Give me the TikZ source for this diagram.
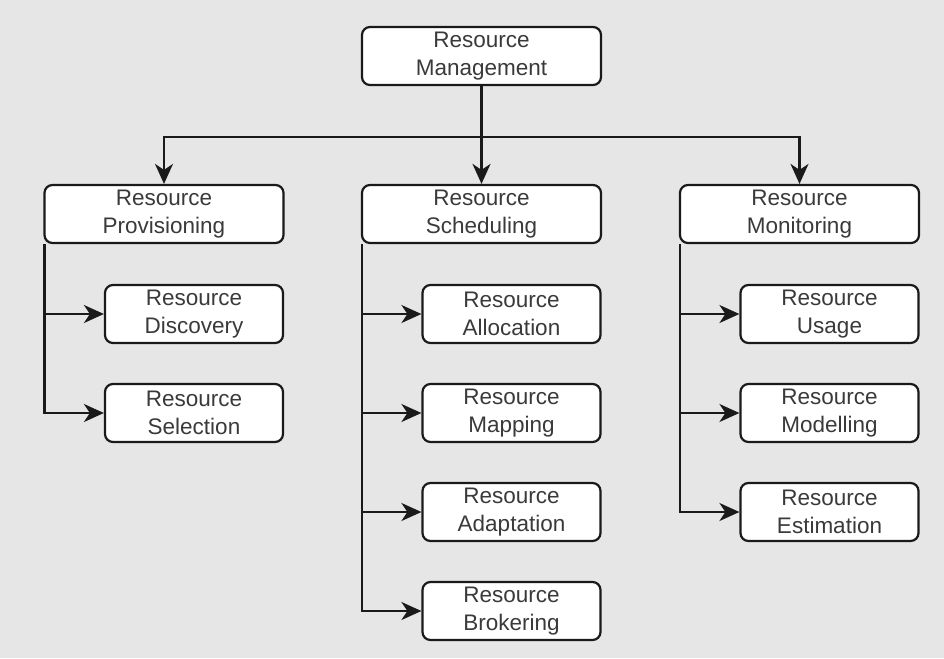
\documentclass[tikz,border=0pt]{standalone}
\usepackage{fontspec}
\setmainfont{Liberation Sans}
\usetikzlibrary{arrows.meta}
\definecolor{bg}{HTML}{E6E6E6}
\definecolor{txt}{HTML}{3A3A3A}
\definecolor{ln}{HTML}{1A1A1A}
\tikzset{tipa/.tip={Stealth[length=20pt,width=18pt,inset=6pt]}}
\begin{document}
\begin{tikzpicture}[x=1pt,y=-1pt,
  box/.style={draw=ln,line width=2.2pt,fill=white,rounded corners=8pt,
    minimum height=58pt,inner sep=0pt,align=center,text=txt,
    font=\fontsize{22.5}{28}\selectfont},
  big/.style={box,minimum width=239pt},
  small/.style={box,minimum width=178pt},
  conn/.style={draw=ln,line width=2.2pt,-tipa}]
\fill[bg] (0,0) rectangle (944,658);
\useasboundingbox (0,0) rectangle (944,658);
\node[big] (rm) at (481.5,56) {Resource\\Management};
\node[big] (rp) at (164,214) {Resource\\Provisioning};
\node[big] (rs) at (481.5,214) {Resource\\Scheduling};
\node[big] (rmo) at (799.5,214) {Resource\\Monitoring};
\node[small] (rd) at (194,314) {Resource\\Discovery};
\node[small] (rse) at (194,413) {Resource\\Selection};
\node[small] (ra) at (511.5,314) {Resource\\Allocation};
\node[small] (rma) at (511.5,413) {Resource\\Mapping};
\node[small] (rad) at (511.5,512) {Resource\\Adaptation};
\node[small] (rb) at (511.5,611) {Resource\\Brokering};
\node[small] (ru) at (829.5,314) {Resource\\Usage};
\node[small] (rmod) at (829.5,413) {Resource\\Modelling};
\node[small] (re) at (829.5,512) {Resource\\Estimation};
\coordinate (bus) at (481.5,137);
\draw[conn] (rm.south) -- (rs.north);
\draw[conn] (bus) -| (rp.north);
\draw[conn] (bus) -| (rmo.north);
\foreach \p/\c in {rp/rd,rp/rse,rs/ra,rs/rma,rs/rad,rs/rb,rmo/ru,rmo/rmod,rmo/re}
  \draw[conn] ([xshift=1.1pt]\p.south west) |- (\c.west);
\end{tikzpicture}
\end{document}
